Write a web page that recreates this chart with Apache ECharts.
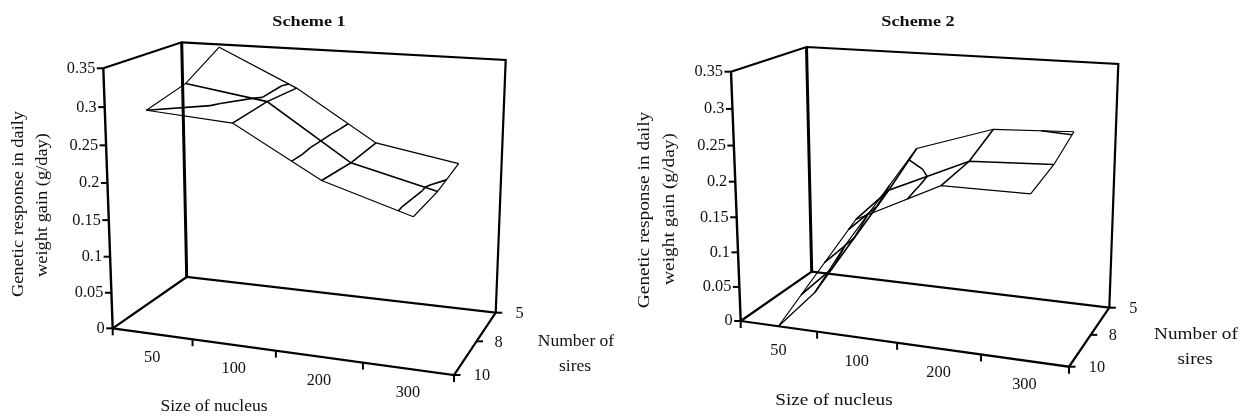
<!DOCTYPE html>
<html>
<head>
<meta charset="utf-8">
<style>html,body{margin:0;padding:0;background:#fff}#chart{width:1254px;height:418px}</style>
<script src="https://cdn.jsdelivr.net/npm/echarts@6/dist/echarts.min.js"></script>
</head>
<body>
<div id="chart"></div>
<script>
// Tick labels
const nucleusSizes = ['50', '100', '200', '300'];
const sireCounts = ['10', '8', '5'];
const responseTicks = [0, 0.05, 0.1, 0.15, 0.2, 0.25, 0.3, 0.35];
const responseLabels = ['0', '0.05', '0.1', '0.15', '0.2', '0.25', '0.3', '0.35'];

// Genetic response (g/day) by number of sires, across nucleus sizes
const scheme1Sires10 = [0.300, 0.292, 0.229, 0.1945];
const scheme1Sires8 = [0.314, 0.297, 0.224, 0.196];
const scheme1Sires5 = [0.346, 0.295, 0.226, 0.206];
const scheme2Sires10 = [0.000, 0.165, 0.222, 0.2225];
const scheme2Sires8 = [0.010, 0.175, 0.2265, 0.232];
const scheme2Sires5 = [0.050, 0.210, 0.247, 0.252];

const RESPONSE_MAX = 0.35;
const CONTOUR_STEP = 0.05;

// Screen-space corners of each 3D box and where its captions sit
const panels = [
  {
    title: 'Scheme 1', titleAt: [309, 22],
    rows: [scheme1Sires10, scheme1Sires8, scheme1Sires5],
    O: [112.7, 328.3], F: [454, 375], C: [186.7, 277], E: [495.7, 312.7],
    A: [103.3, 68.3], G: [467, 92], B: [181.7, 42.3], D: [505.7, 60],
    uBend: 0.916,
    captionStretch: 1.03, sideStretch: 1.08,
    yTitle: [[19, 204], [43, 205]],
    xTitleAt: [214, 407],
    zTitleAt: [[576, 342], [575, 367]]
  },
  {
    title: 'Scheme 2', titleAt: [918, 22],
    rows: [scheme2Sires10, scheme2Sires8, scheme2Sires5],
    O: [740.7, 321], F: [1069, 366.7], C: [811.7, 271.7], E: [1109.3, 307.7],
    A: [731, 71.7], G: [1082, 96.7], B: [806.5, 47], D: [1118.3, 64],
    uBend: 0.91,
    captionStretch: 1.13, sideStretch: 1.14,
    yTitle: [[645, 210], [670, 209]],
    xTitleAt: [834, 401],
    zTitleAt: [[1196, 335], [1195, 360]]
  }
];

const bend = (t, a) => a * t / (1 + (a - 1) * t);
const mix = (p, q, t) => [p[0] + (q[0] - p[0]) * t, p[1] + (q[1] - p[1]) * t];

// Perspective-like mapping from (nucleus, sires, response) to the plane of the axes
function project(panel, u, v, value) {
  const uu = bend(u, panel.uBend);
  const vv = bend(v, 1.174);
  const floor = mix(mix(panel.O, panel.F, uu), mix(panel.C, panel.E, uu), vv);
  const ceil = mix(mix(panel.A, panel.G, uu), mix(panel.B, panel.D, uu), vv);
  return mix(floor, ceil, bend(value / RESPONSE_MAX, 0.95));
}

// Grid index to axis fraction: nucleus sizes sit mid-band, sires sit on the ticks
const uOf = i => (i + 0.5) / nucleusSizes.length;
const vOf = j => j / (sireCounts.length - 1);

const wires = [];
const texts = [];
const wire = (pts, width) => wires.push({ pts, width });
const label = (text, at, opt) => texts.push(Object.assign({ text, at }, opt));

// Contours across one triangle (i, j are fractional grid coordinates)
function triangleContours(panel, tri, level) {
  const cuts = [];
  for (let k = 0; k < 3; k++) {
    const a = tri[k], b = tri[(k + 1) % 3];
    if ((a[2] >= level) !== (b[2] >= level)) {
      const t = (level - a[2]) / (b[2] - a[2]);
      cuts.push(project(panel,
        uOf(a[0] + (b[0] - a[0]) * t),
        vOf(a[1] + (b[1] - a[1]) * t),
        level));
    }
  }
  if (cuts.length === 2) wire(cuts, 1.6);
}

function buildPanel(panel) {
  const P = (u, v, z) => project(panel, u, v, z);

  // Box edges
  const top = RESPONSE_MAX;
  wire([P(0, 0, 0), P(1, 0, 0), P(1, 1, 0), P(0, 1, 0), P(0, 0, 0)], 2.2);
  wire([P(0, 0, 0), P(0, 0, top)], 2.4);
  wire([P(0, 0, top), P(0, 1, top), P(1, 1, top), P(1, 1, 0)], 2.2);
  wire([P(0, 1, 0), P(0, 1, top)], 3);

  // Response axis ticks and labels
  responseTicks.forEach((t, i) => {
    const p = P(0, 0, t);
    wire([p, [p[0] - 6.5, p[1]]], 2);
    label(responseLabels[i], [p[0] - 8, p[1]], { align: 'right' });
  });

  // Nucleus axis ticks and labels
  for (let i = 0; i <= nucleusSizes.length; i++) {
    const p = P(i / nucleusSizes.length, 0, 0);
    wire([p, [p[0], p[1] + 7]], 2);
  }
  nucleusSizes.forEach((s, i) => {
    const p = P(uOf(i), 0, 0);
    label(s, [p[0], p[1] + 24], {});
  });

  // Sires axis ticks and labels
  const sireLabelOffset = [28, 22, 24];
  sireCounts.forEach((s, j) => {
    const p = P(1, vOf(j), 0);
    wire([p, [p[0] + 6.5, p[1]]], 2);
    label(s, [p[0] + sireLabelOffset[j], p[1] + 1], {});
  });

  // Surface mesh: boundary lines are thinner than interior ones
  const rows = panel.rows;
  const nI = rows[0].length, nJ = rows.length;
  rows.forEach((row, j) => {
    wire(row.map((z, i) => P(uOf(i), vOf(j), z)), j === 1 ? 1.6 : 1.2);
  });
  for (let i = 0; i < nI; i++) {
    const line = rows.map((row, j) => P(uOf(i), vOf(j), row[i]));
    wire(line, (i === 0 || i === nI - 1) ? 1.2 : 1.6);
  }

  // Contour bands at each major unit, walked through four triangles per cell
  for (let i = 0; i < nI - 1; i++) {
    for (let j = 0; j < nJ - 1; j++) {
      const a = [i, j, rows[j][i]], b = [i + 1, j, rows[j][i + 1]];
      const c = [i + 1, j + 1, rows[j + 1][i + 1]], d = [i, j + 1, rows[j + 1][i]];
      const m = [i + 0.5, j + 0.5, (a[2] + b[2] + c[2] + d[2]) / 4];
      responseTicks.slice(1, -1).forEach(level => {
        [[a, b], [b, c], [c, d], [d, a]].forEach(e => {
          triangleContours(panel, [e[0], e[1], m], level + CONTOUR_STEP * 1e-6);
        });
      });
    }
  }

  // Captions
  label(panel.title, panel.titleAt, { bold: true, size: 14, sx: 1.3 });
  label('Genetic response in daily', panel.yTitle[0], { rot: Math.PI / 2, sx: panel.sideStretch });
  label('weight gain (g/day)', panel.yTitle[1], { rot: Math.PI / 2, sx: panel.sideStretch });
  label('Size of nucleus', panel.xTitleAt, { sx: panel.captionStretch });
  label('Number of', panel.zTitleAt[0], { sx: panel.captionStretch });
  label('sires', panel.zTitleAt[1], { sx: panel.captionStretch });
}

panels.forEach(buildPanel);

const chart = echarts.init(document.getElementById('chart'));
chart.setOption({
  animation: false,
  backgroundColor: '#fff',
  grid: { left: 0, top: 0, right: 0, bottom: 0 },
  xAxis: { type: 'value', min: 0, max: 1254, show: false },
  yAxis: { type: 'value', min: 0, max: 418, inverse: true, show: false },
  series: [
    {
      type: 'custom',
      coordinateSystem: 'cartesian2d',
      clip: false,
      silent: true,
      data: wires.map((w, i) => [i]),
      encode: { x: 0 },
      renderItem(params, api) {
        const w = wires[params.dataIndex];
        return {
          type: 'polyline',
          shape: { points: w.pts.map(p => api.coord(p)) },
          style: { stroke: '#000', lineWidth: w.width, fill: 'none', lineJoin: 'miter' }
        };
      }
    },
    {
      type: 'custom',
      coordinateSystem: 'cartesian2d',
      clip: false,
      silent: true,
      data: texts.map((t, i) => [i]),
      encode: { x: 0 },
      renderItem(params, api) {
        const t = texts[params.dataIndex];
        const at = api.coord(t.at);
        const size = t.size || 17;
        return {
          type: 'text',
          x: at[0],
          y: at[1],
          rotation: t.rot || 0,
          scaleX: t.sx || 0.96,
          style: {
            text: t.text,
            fill: '#111',
            font: (t.bold ? 'bold ' : '') + size + 'px "Liberation Serif"',
            textAlign: t.align || 'center',
            textVerticalAlign: 'middle'
          }
        };
      }
    }
  ]
});
</script>
</body>
</html>
